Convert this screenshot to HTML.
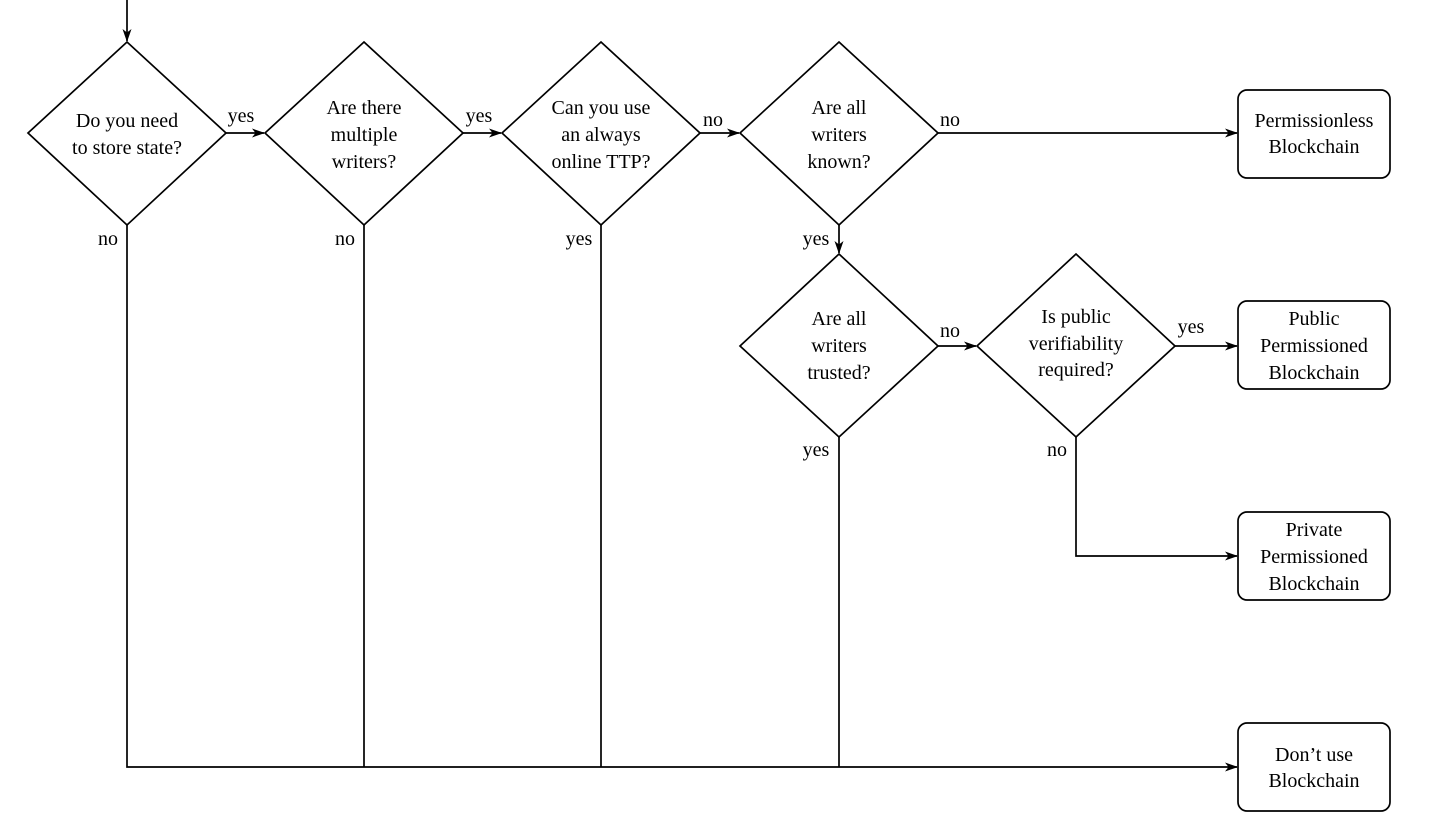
<!DOCTYPE html>
<html><head><meta charset="utf-8"><style>
html,body{margin:0;padding:0;background:#fff;}
svg{display:block;}
text{font-family:"Liberation Serif","DejaVu Serif",serif;font-size:20px;fill:#000;text-anchor:middle;dominant-baseline:central;}
</style></head><body>
<svg width="1444" height="826" viewBox="0 0 1444 826">
<defs>
<marker id="a" markerWidth="14" markerHeight="12" refX="12" refY="6" orient="auto" markerUnits="userSpaceOnUse">
<path d="M0,1.5 L13,6 L0,10.5 L3.5,6 Z" fill="#000"/>
</marker>
</defs>
<g fill="none" stroke="#000" stroke-width="1.7">
<polygon points="127,42 226,133 127,225 28,133"/>
<polygon points="364,42 463,133 364,225 265,133"/>
<polygon points="601,42 700,133 601,225 502,133"/>
<polygon points="839,42 938,133 839,225 740,133"/>
<polygon points="839,254 938,346 839,437 740,346"/>
<polygon points="1076,254 1175,346 1076,437 977,346"/>
<rect x="1238" y="90" width="152" height="88" rx="9"/>
<rect x="1238" y="301" width="152" height="88" rx="9"/>
<rect x="1238" y="512" width="152" height="88" rx="9"/>
<rect x="1238" y="723" width="152" height="88" rx="9"/>
<line x1="127" y1="0" x2="127" y2="41" marker-end="url(#a)"/>
<line x1="226" y1="133" x2="264" y2="133" marker-end="url(#a)"/>
<line x1="463" y1="133" x2="501" y2="133" marker-end="url(#a)"/>
<line x1="700" y1="133" x2="739" y2="133" marker-end="url(#a)"/>
<line x1="938" y1="133" x2="1237" y2="133" marker-end="url(#a)"/>
<line x1="839" y1="225" x2="839" y2="253" marker-end="url(#a)"/>
<line x1="938" y1="346" x2="976" y2="346" marker-end="url(#a)"/>
<line x1="1175" y1="346" x2="1237" y2="346" marker-end="url(#a)"/>
<polyline points="1076,437 1076,556 1237,556" marker-end="url(#a)"/>
<polyline points="127,225 127,767 1237,767" marker-end="url(#a)"/>
<line x1="364" y1="225" x2="364" y2="767"/>
<line x1="601" y1="225" x2="601" y2="767"/>
<line x1="839" y1="437" x2="839" y2="767"/>
</g>
<text x="127" y="121">Do you need</text><text x="127" y="148">to store state?</text>
<text x="364" y="108">Are there</text><text x="364" y="135">multiple</text><text x="364" y="162">writers?</text>
<text x="601" y="108">Can you use</text><text x="601" y="135">an always</text><text x="601" y="162">online TTP?</text>
<text x="839" y="108">Are all</text><text x="839" y="135">writers</text><text x="839" y="162">known?</text>
<text x="839" y="319">Are all</text><text x="839" y="346">writers</text><text x="839" y="373">trusted?</text>
<text x="1076" y="317">Is public</text><text x="1076" y="344">verifiability</text><text x="1076" y="370">required?</text>
<text x="1314" y="121">Permissionless</text><text x="1314" y="147">Blockchain</text>
<text x="1314" y="319">Public</text><text x="1314" y="346">Permissioned</text><text x="1314" y="373">Blockchain</text>
<text x="1314" y="530">Private</text><text x="1314" y="557">Permissioned</text><text x="1314" y="584">Blockchain</text>
<text x="1314" y="755">Don’t use</text><text x="1314" y="781">Blockchain</text>
<text x="241" y="116">yes</text>
<text x="479" y="116">yes</text>
<text x="713" y="120">no</text>
<text x="950" y="120">no</text>
<text x="108" y="239">no</text>
<text x="345" y="239">no</text>
<text x="579" y="239">yes</text>
<text x="816" y="239">yes</text>
<text x="950" y="331">no</text>
<text x="1191" y="327">yes</text>
<text x="816" y="450">yes</text>
<text x="1057" y="450">no</text>
</svg>
</body></html>
